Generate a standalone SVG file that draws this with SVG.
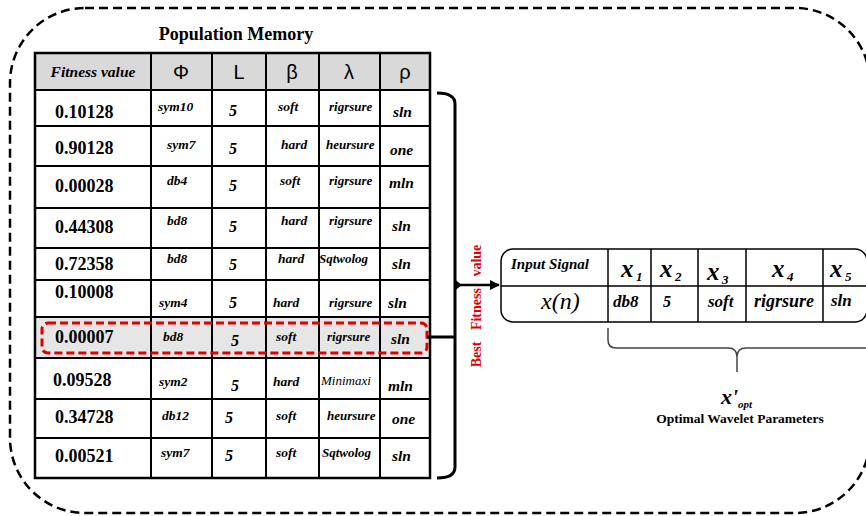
<svg xmlns="http://www.w3.org/2000/svg" width="866" height="516" viewBox="0 0 866 516">
<defs>
<style>
.grid{stroke:#000;stroke-width:2;fill:none}
.fv{font-family:"Liberation Serif",serif;font-weight:bold;font-size:18px;fill:#000}
.bi{font-family:"Liberation Serif",serif;font-weight:bold;font-style:italic;fill:#000}
.it{font-family:"Liberation Serif",serif;font-style:italic;fill:#000}
.phi{font-size:13.5px}
.bet{font-size:13.5px}
.lam{font-size:13px}
.rho{font-size:15.5px}
.five{font-size:16px}
.gr{font-family:"Liberation Sans",sans-serif;font-size:20px;fill:#000;text-anchor:middle}
.xv{font-size:25px}
.sub{font-size:13px}
.r2{font-size:17px}
</style>
<marker id="ah" markerWidth="10" markerHeight="10" refX="9" refY="5" orient="auto" markerUnits="userSpaceOnUse">
<path d="M0,0 L10,5 L0,10 Z" fill="#000"/>
</marker>
</defs>
<rect id="frame" x="10" y="8" width="860" height="505" rx="75" ry="75" fill="none" stroke="#000" stroke-width="2.5" stroke-dasharray="9 5"/>

<g id="population-memory">
<text x="236" y="40" text-anchor="middle" style="font-family:'Liberation Serif',serif;font-weight:bold;font-size:18px">Population Memory</text>
<rect x="35" y="53" width="395" height="37" fill="#d9d9d9"/>
<rect x="35" y="317" width="395" height="41" fill="#e6e6e6"/>
<g class="grid">
<rect x="35" y="53" width="395" height="425" stroke-width="2.5"/>
<path d="M151,53V478M212,53V478M266,53V478M319,53V478M380,53V478"/>
<path d="M35,90H430M35,126H430M35,166H430M35,208H430M35,248H430M35,280H430M35,317H430M35,358H430M35,399H430M35,438H430"/>
</g>
<text x="93" y="77" text-anchor="middle" class="bi" style="font-size:15.5px">Fitness value</text>
<text x="181" y="79" class="gr">Φ</text>
<text x="239" y="79" class="gr">L</text>
<text x="292" y="79" class="gr">β</text>
<text x="349" y="79" class="gr">λ</text>
<text x="405" y="79" class="gr">ρ</text>

<g id="row1"><text x="55" y="118" class="fv">0.10128</text><text x="158" y="111" class="bi phi">sym10</text><text x="229" y="116" class="bi five">5</text><text x="278" y="111" class="bi bet">soft</text><text x="329" y="111" class="bi lam">rigrsure</text><text x="393" y="117" class="bi rho">sln</text></g>
<g id="row2"><text x="55" y="154" class="fv">0.90128</text><text x="167" y="149" class="bi phi">sym7</text><text x="229" y="154" class="bi five">5</text><text x="281" y="149" class="bi bet">hard</text><text x="326" y="149" class="bi lam">heursure</text><text x="390" y="155" class="bi rho">one</text></g>
<g id="row3"><text x="55" y="192" class="fv">0.00028</text><text x="167" y="185" class="bi phi">db4</text><text x="229" y="191" class="bi five">5</text><text x="280" y="185" class="bi bet">soft</text><text x="329" y="185" class="bi lam">rigrsure</text><text x="389" y="188" class="bi rho">mln</text></g>
<g id="row4"><text x="55" y="233" class="fv">0.44308</text><text x="167" y="225" class="bi phi">bd8</text><text x="229" y="232" class="bi five">5</text><text x="281" y="225" class="bi bet">hard</text><text x="329" y="225" class="bi lam">rigrsure</text><text x="392" y="231" class="bi rho">sln</text></g>
<g id="row5"><text x="55" y="270" class="fv">0.72358</text><text x="167" y="263" class="bi phi">bd8</text><text x="229" y="270" class="bi five">5</text><text x="278" y="263" class="bi bet">hard</text><text x="319" y="263" class="bi lam">Sqtwolog</text><text x="392" y="269" class="bi rho">sln</text></g>
<g id="row6"><text x="55" y="298" class="fv">0.10008</text><text x="159" y="307" class="bi phi">sym4</text><text x="229" y="308" class="bi five">5</text><text x="273" y="307" class="bi bet">hard</text><text x="329" y="307" class="bi lam">rigrsure</text><text x="388" y="308" class="bi rho">sln</text></g>
<g id="row7"><text x="55" y="343" class="fv">0.00007</text><text x="163" y="341" class="bi phi">bd8</text><text x="231" y="346" class="bi five">5</text><text x="276" y="341" class="bi bet">soft</text><text x="327" y="341" class="bi lam">rigrsure</text><text x="391" y="344" class="bi rho">sln</text></g>
<g id="row8"><text x="53" y="386" class="fv">0.09528</text><text x="159" y="386" class="bi phi">sym2</text><text x="231" y="391" class="bi five">5</text><text x="273" y="386" class="bi bet">hard</text><text x="321" y="385" class="it" style="font-size:13px">Minimaxi</text><text x="388" y="391" class="bi rho">mln</text></g>
<g id="row9"><text x="55" y="423" class="fv">0.34728</text><text x="162" y="420" class="bi phi">db12</text><text x="225" y="423" class="bi five">5</text><text x="276" y="420" class="bi bet">soft</text><text x="327" y="420" class="bi lam">heursure</text><text x="392" y="424" class="bi rho">one</text></g>
<g id="row10"><text x="55" y="462" class="fv">0.00521</text><text x="161" y="457" class="bi phi">sym7</text><text x="225" y="461" class="bi five">5</text><text x="276" y="457" class="bi bet">soft</text><text x="322" y="457" class="bi lam">Sqtwolog</text><text x="392" y="461" class="bi rho">sln</text></g>

<rect id="best-row" x="42" y="323" width="385" height="30" rx="6" fill="none" stroke="#e00000" stroke-width="3" stroke-dasharray="8 4"/>
</g>

<g id="connectors" fill="none" stroke="#000">
<path d="M437,93 Q455,93 455,104 L455,467 Q455,478 437,478" stroke-width="3"/>
<path d="M455,280 L461,285 L455,290 Z" fill="#000" stroke-width="1"/>
<path d="M455,285 H499" stroke-width="2.5" marker-end="url(#ah)"/>
<path d="M427,337 H455" stroke-width="3"/>
<path d="M608,328 V340 Q608,348 616,348 H728 Q737,348 737,357 V372 M737,357 Q737,348 746,348 H870" stroke="#444" stroke-width="1.5"/>
</g>

<g id="best-fitness-label">
<text transform="translate(481,306) rotate(-90)" text-anchor="middle" style="font-family:'Liberation Serif',serif;font-weight:bold;font-size:14px;fill:#e00000;word-spacing:8px">Best Fitness value</text>
</g>

<g id="optimal-parameters">
<rect x="501" y="249" width="366" height="73" rx="12" fill="none" stroke="#000" stroke-width="1.5"/>
<path d="M501,286 H866 M608,249 V322 M651,249 V322 M698,249 V322 M746,249 V322 M823,249 V322" stroke="#000" stroke-width="1.5" fill="none"/>
<text x="511" y="269" class="bi" style="font-size:15px">Input Signal</text>
<text x="621" y="277" class="bi xv">x</text><text x="636" y="281" class="bi sub">1</text>
<text x="660" y="277" class="bi xv">x</text><text x="675" y="281" class="bi sub">2</text>
<text x="707" y="280" class="bi xv">x</text><text x="722" y="284" class="bi sub">3</text>
<text x="772" y="277" class="bi xv">x</text><text x="787" y="281" class="bi sub">4</text>
<text x="830" y="277" class="bi xv">x</text><text x="845" y="281" class="bi sub">5</text>
<text x="541" y="309" class="it" style="font-size:24px">x(n)</text>
<text x="613" y="307" class="bi r2">db8</text>
<text x="663" y="307" class="bi five">5</text>
<text x="708" y="307" class="bi r2">soft</text>
<text x="754" y="307" class="bi" style="font-size:18px">rigrsure</text>
<text x="831" y="306" class="bi r2">sln</text>
</g>

<g id="x-opt">
<text x="721" y="404" class="bi" style="font-size:22px">x'</text>
<text x="738" y="408" class="bi" style="font-size:11px">opt</text>
<text x="740" y="423" text-anchor="middle" style="font-family:'Liberation Serif',serif;font-weight:bold;font-size:13.5px">Optimal Wavelet Parameters</text>
</g>
</svg>
